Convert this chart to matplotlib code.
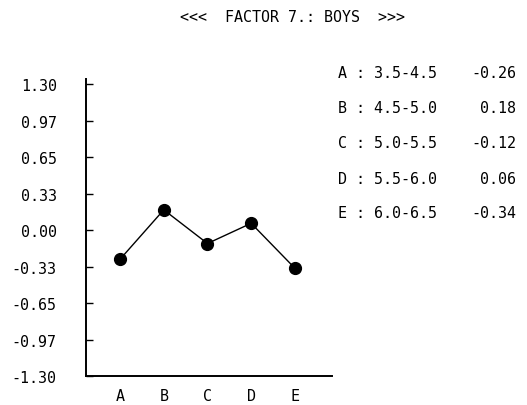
import matplotlib
matplotlib.use("Agg")
import matplotlib.pyplot as plt
import numpy as np

categories = ["A", "B", "C", "D", "E"]
ranges = ["3.5-4.5", "4.5-5.0", "5.0-5.5", "5.5-6.0", "6.0-6.5"]
values = [-0.26, 0.18, -0.12, 0.06, -0.34]
value_labels = ["-0.26", "0.18", "-0.12", "0.06", "-0.34"]
ytick_vals = [1.30, 0.975, 0.65, 0.325, 0.0, -0.325, -0.65, -0.975, -1.30]
ytick_labels = ["1.30", "0.97", "0.65", "0.33", "0.00", "-0.33", "-0.65", "-0.97", "-1.30"]
title = "<<<  FACTOR 7.: BOYS  >>>"

W, H = 527, 406
fig = plt.figure(figsize=(W / 100, H / 100), dpi=100)
font = "DejaVu Sans Mono"
fs = 10.8

ax = fig.add_axes([86 / W, (H - 377) / H, (332 - 86) / W, (377 - 80) / H])
x = np.arange(len(categories))
ax.plot(x, values, color="black", lw=1.0, marker="o", ms=8.5, mfc="black", mec="black")
ax.set_xlim(-0.78, 4.85)
ax.set_ylim(-1.30, 1.345)
for s in ["top", "right"]:
    ax.spines[s].set_visible(False)
for s in ["left", "bottom"]:
    ax.spines[s].set_linewidth(1.4)
ax.set_yticks(ytick_vals)
ax.set_yticklabels(ytick_labels, fontfamily=font, fontsize=fs)
ax.tick_params(axis="y", direction="in", length=5, width=1, pad=21)
ax.set_xticks(x)
ax.set_xticklabels(categories, fontfamily=font, fontsize=fs)
ax.tick_params(axis="x", length=0, pad=9)

fig.text(293 / W, 1 - 18 / H, title, ha="center", va="center", fontfamily=font, fontsize=fs)

ys = [74, 109, 144, 179, 214]
for i in range(len(categories)):
    fig.text(338 / W, 1 - ys[i] / H, f"{categories[i]} : {ranges[i]}", ha="left", va="center",
             fontfamily=font, fontsize=fs)
    fig.text(516 / W, 1 - ys[i] / H, value_labels[i], ha="right", va="center",
             fontfamily=font, fontsize=fs)

fig.savefig("out.png", dpi=100)
